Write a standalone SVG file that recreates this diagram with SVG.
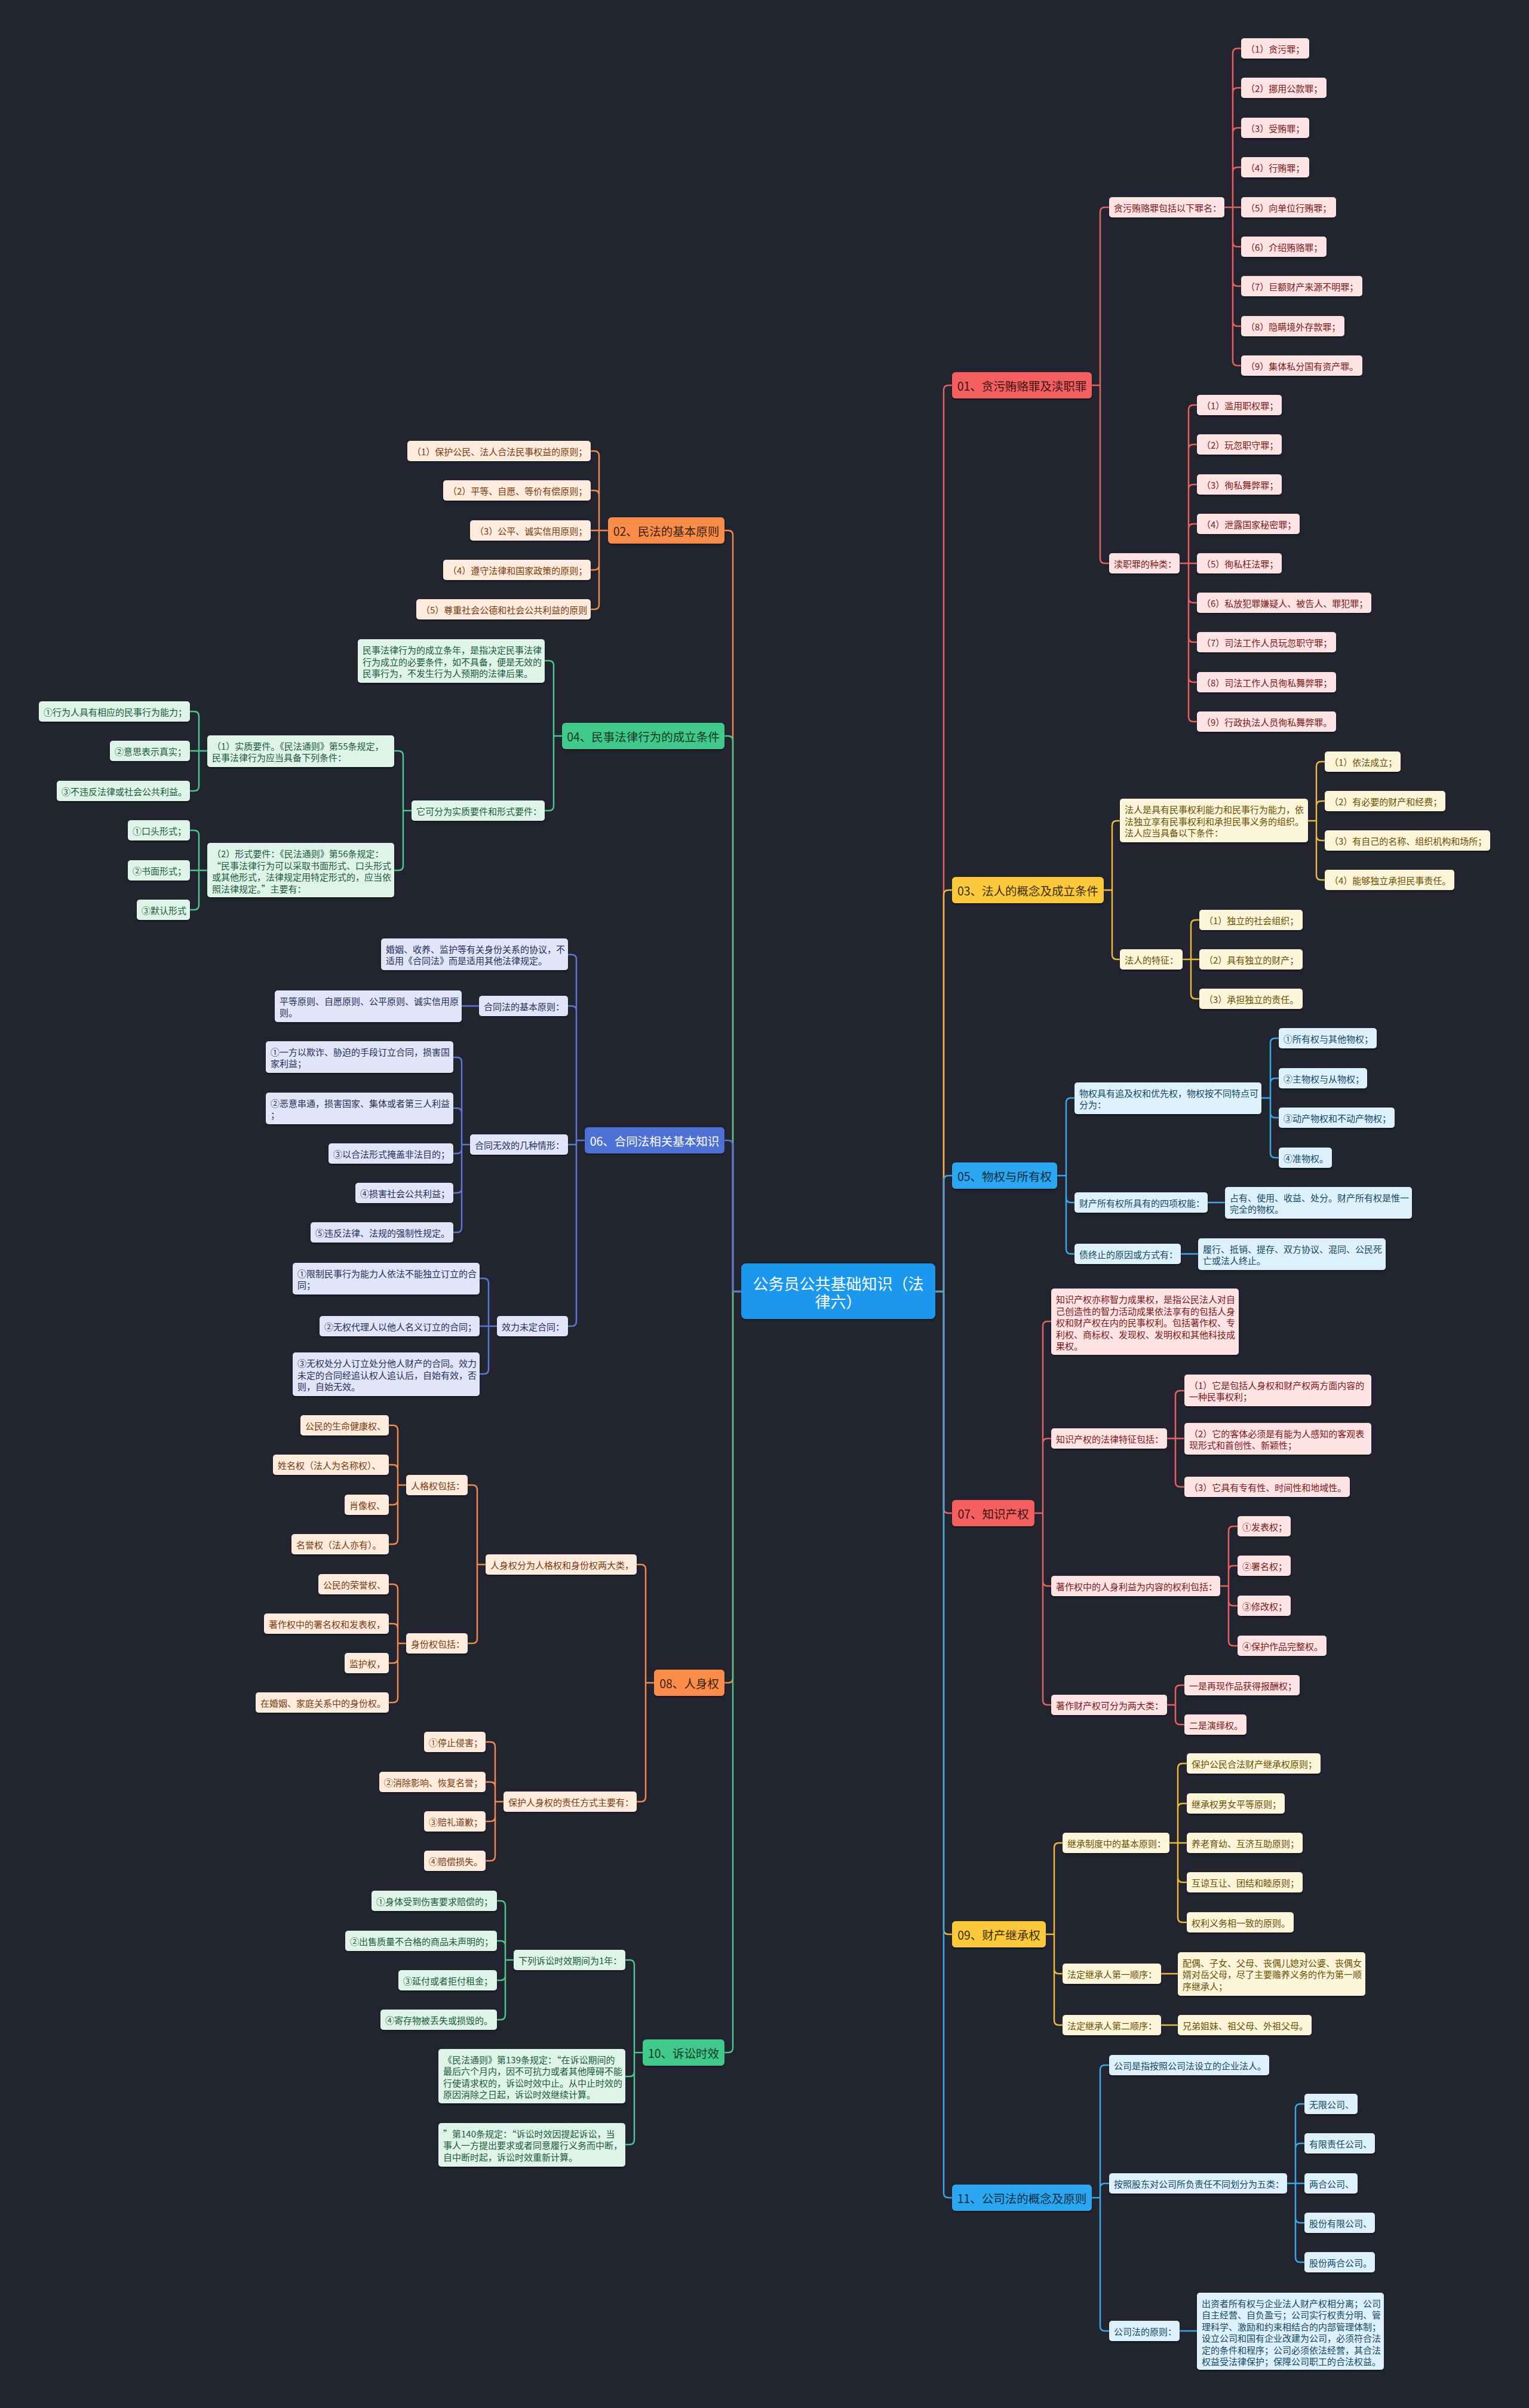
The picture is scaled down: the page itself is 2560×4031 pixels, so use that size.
<svg xmlns="http://www.w3.org/2000/svg" width="2560" height="4031" viewBox="0 0 2560 4031">
<defs>
<filter id="sh" x="-5%" y="-10%" width="110%" height="130%"><feDropShadow dx="0" dy="2" stdDeviation="1.2" flood-color="#000" flood-opacity="0.45"/></filter>
<style>
text{font-family:"Noto Sans CJK SC","Noto Sans",sans-serif;font-size:15px;dominant-baseline:central}
.L1{font-size:19.5px;text-anchor:middle}
g rect{filter:url(#sh)}
.nr1 rect{fill:#f65e5e}.nr1 text{fill:#3a1414}
.nr2 rect{fill:#fde3e3}.nr2 text{fill:#7d1818}
.no1 rect{fill:#fb8c4a}.no1 text{fill:#3d220f}
.no2 rect{fill:#fdebde}.no2 text{fill:#7c3a0c}
.ny1 rect{fill:#fcc93c}.ny1 text{fill:#3d2e05}
.ny2 rect{fill:#fdf5da}.ny2 text{fill:#6a5000}
.ng1 rect{fill:#3fc98a}.ng1 text{fill:#10392a}
.ng2 rect{fill:#def4e8}.ng2 text{fill:#1b5a3c}
.nb1 rect{fill:#2aa7f0}.nb1 text{fill:#0e2c44}
.nb2 rect{fill:#dcf1fc}.nb2 text{fill:#154766}
.ni1 rect{fill:#4e6fd4}.ni1 text{fill:#ffffff}
.ni2 rect{fill:#e1e5f7}.ni2 text{fill:#23305f}
.root rect{fill:#1f97ee}.root text{fill:#ffffff;font-size:26px;text-anchor:middle}
#connectors path{fill:none;stroke-width:2.5;stroke-linejoin:round}
.cr{stroke:#e8615f}.co{stroke:#f08b50}.cy{stroke:#e9bb3a}.cg{stroke:#4cc48b}.cb{stroke:#3aa8e6}.ci{stroke:#5a77d2}
</style>
</defs>
<rect x="0" y="0" width="2560" height="4031" fill="#22242f"/>

<g id="connectors">
<path class="cr" d="M1566 2162H1580V653Q1580 645 1588 645H1594M1566 2162H1580V2525Q1580 2533 1588 2533H1594"/>
<path class="cy" d="M1566 2162H1580V1498Q1580 1490 1588 1490H1594M1566 2162H1580V3230Q1580 3238 1588 3238H1594"/>
<path class="cb" d="M1566 2162H1580V1976Q1580 1968 1588 1968H1594M1566 2162H1580V3671Q1580 3679 1588 3679H1594"/>
<path class="co" d="M1241 2162H1227V896Q1227 888 1219 888H1213M1241 2162H1227V2809Q1227 2817 1219 2817H1213"/>
<path class="cg" d="M1241 2162H1227V1240Q1227 1232 1219 1232H1213M1241 2162H1227V3428Q1227 3436 1219 3436H1213"/>
<path class="ci" d="M1241 2162H1227V1917Q1227 1909 1219 1909H1213"/>

<path class="cr" d="M1828 645H1842V355Q1842 347 1850 347H1857M1828 645H1842V935Q1842 943 1850 943H1857"/>
<path class="cr" d="M2050 347H2064V89Q2064 81 2072 81H2078M2050 347H2064V155Q2064 147 2072 147H2078M2050 347H2064V222Q2064 214 2072 214H2078M2050 347H2064V288Q2064 280 2072 280H2078M2050 347H2078M2050 347H2064V405Q2064 413 2072 413H2078M2050 347H2064V471Q2064 479 2072 479H2078M2050 347H2064V538Q2064 546 2072 546H2078M2050 347H2064V604Q2064 612 2072 612H2078"/>
<path class="cr" d="M1975 943H1990V686Q1990 678 1998 678H2004M1975 943H1990V752Q1990 744 1998 744H2004M1975 943H1990V819Q1990 811 1998 811H2004M1975 943H1990V885Q1990 877 1998 877H2004M1975 943H2004M1975 943H1990V1001Q1990 1009 1998 1009H2004M1975 943H1990V1067Q1990 1075 1998 1075H2004M1975 943H1990V1134Q1990 1142 1998 1142H2004M1975 943H1990V1200Q1990 1208 1998 1208H2004"/>

<path class="cy" d="M1848 1490H1862V1382Q1862 1374 1870 1374H1875M1848 1490H1862V1598Q1862 1606 1870 1606H1875"/>
<path class="cy" d="M2190 1374H2204V1283Q2204 1275 2212 1275H2218M2190 1374H2204V1349Q2204 1341 2212 1341H2218M2190 1374H2204V1399Q2204 1407 2212 1407H2218M2190 1374H2204V1465Q2204 1473 2212 1473H2218"/>
<path class="cy" d="M1980 1606H1994V1548Q1994 1540 2002 1540H2008M1980 1606H2008M1980 1606H1994V1664Q1994 1672 2002 1672H2008"/>

<path class="cb" d="M1770 1968H1785V1846Q1785 1838 1793 1838H1799M1770 1968H1785V2005Q1785 2013 1793 2013H1799M1770 1968H1785V2091Q1785 2099 1793 2099H1799"/>
<path class="cb" d="M2112 1838H2127V1746Q2127 1738 2135 1738H2141M2112 1838H2127V1813Q2127 1805 2135 1805H2141M2112 1838H2127V1863Q2127 1871 2135 1871H2141M2112 1838H2127V1930Q2127 1938 2135 1938H2141"/>
<path class="cb" d="M2022 2013H2051M1977 2099H2006"/>

<path class="cr" d="M1732 2533H1746V2220Q1746 2212 1754 2212H1760M1732 2533H1746V2416Q1746 2408 1754 2408H1760M1732 2533H1746V2647Q1746 2655 1754 2655H1760M1732 2533H1746V2846Q1746 2854 1754 2854H1760"/>
<path class="cr" d="M1954 2408H1968V2336Q1968 2328 1976 2328H1983M1954 2408H1983M1954 2408H1968V2481Q1968 2489 1976 2489H1983"/>
<path class="cr" d="M2043 2655H2057V2563Q2057 2555 2065 2555H2072M2043 2655H2057V2629Q2057 2621 2065 2621H2072M2043 2655H2057V2680Q2057 2688 2065 2688H2072M2043 2655H2057V2747Q2057 2755 2065 2755H2072"/>
<path class="cr" d="M1954 2854H1968V2829Q1968 2821 1976 2821H1983M1954 2854H1968V2879Q1968 2887 1976 2887H1983"/>

<path class="cy" d="M1751 3238H1765V3093Q1765 3085 1773 3085H1779M1751 3238H1765V3296Q1765 3304 1773 3304H1779M1751 3238H1765V3382Q1765 3390 1773 3390H1779"/>
<path class="cy" d="M1958 3085H1972V2960Q1972 2952 1980 2952H1987M1958 3085H1972V3027Q1972 3019 1980 3019H1987M1958 3085H1987M1958 3085H1972V3143Q1972 3151 1980 3151H1987M1958 3085H1972V3210Q1972 3218 1980 3218H1987"/>
<path class="cy" d="M1944 3304H1972M1944 3390H1972"/>

<path class="cb" d="M1828 3679H1842V3465Q1842 3457 1850 3457H1857M1828 3679H1842V3663Q1842 3655 1850 3655H1857M1828 3679H1842V3894Q1842 3902 1850 3902H1857"/>
<path class="cb" d="M2155 3655H2169V3530Q2169 3522 2177 3522H2184M2155 3655H2169V3596Q2169 3588 2177 3588H2184M2155 3655H2184M2155 3655H2169V3713Q2169 3721 2177 3721H2184M2155 3655H2169V3779Q2169 3787 2177 3787H2184"/>
<path class="cb" d="M1975 3902H2004"/>

<path class="co" d="M1018 888H1003V763Q1003 755 995 755H989M1018 888H1003V829Q1003 821 995 821H989M1018 888H989M1018 888H1003V946Q1003 954 995 954H989M1018 888H1003V1012Q1003 1020 995 1020H989"/>

<path class="cg" d="M941 1232H927V1114Q927 1106 919 1106H912M941 1232H927V1349Q927 1357 919 1357H912"/>
<path class="cg" d="M689 1357H675V1265Q675 1257 667 1257H660M689 1357H675V1449Q675 1457 667 1457H660"/>
<path class="cg" d="M347 1257H333V1199Q333 1191 325 1191H318M347 1257H318M347 1257H333V1316Q333 1324 325 1324H318"/>
<path class="cg" d="M347 1457H333V1398Q333 1390 325 1390H318M347 1457H318M347 1457H333V1515Q333 1523 325 1523H318"/>

<path class="ci" d="M979 1909H965V1606Q965 1598 957 1598H951M979 1909H965V1692Q965 1684 957 1684H951M979 1909H965V1913Q965 1916 962 1916H951M979 1909H965V2212Q965 2220 957 2220H951"/>
<path class="ci" d="M802 1684H773"/>
<path class="ci" d="M787 1916H773V1778Q773 1770 765 1770H759M787 1916H773V1863Q773 1855 765 1855H759M787 1916H773V1923Q773 1931 765 1931H759M787 1916H773V1989Q773 1997 765 1997H759M787 1916H773V2055Q773 2063 765 2063H759"/>
<path class="ci" d="M832 2220H818V2148Q818 2140 810 2140H803M832 2220H803M832 2220H818V2292Q818 2300 810 2300H803"/>

<path class="co" d="M1095 2817H1081V2627Q1081 2619 1073 2619H1066M1095 2817H1081V3008Q1081 3016 1073 3016H1066"/>
<path class="co" d="M813 2619H799V2494Q799 2486 791 2486H783M813 2619H799V2743Q799 2751 791 2751H783"/>
<path class="co" d="M680 2486H666V2394Q666 2386 658 2386H651M680 2486H666V2460Q666 2452 658 2452H651M680 2486H666V2511Q666 2519 658 2519H651M680 2486H666V2577Q666 2585 658 2585H651"/>
<path class="co" d="M680 2751H666V2660Q666 2652 658 2652H651M680 2751H666V2726Q666 2718 658 2718H651M680 2751H666V2776Q666 2784 658 2784H651M680 2751H666V2842Q666 2850 658 2850H651"/>
<path class="co" d="M843 3016H829V2924Q829 2916 821 2916H813M843 3016H829V2991Q829 2983 821 2983H813M843 3016H829V3041Q829 3049 821 3049H813M843 3016H829V3107Q829 3115 821 3115H813"/>

<path class="cg" d="M1076 3436H1062V3289Q1062 3281 1054 3281H1047M1076 3436H1062V3468Q1062 3476 1054 3476H1047M1076 3436H1062V3582Q1062 3590 1054 3590H1047"/>
<path class="cg" d="M860 3281H846V3190Q846 3182 838 3182H832M860 3281H846V3257Q846 3249 838 3249H832M860 3281H846V3307Q846 3315 838 3315H832M860 3281H846V3373Q846 3381 838 3381H832"/>
</g>

<g id="root" class="root"><rect x="1241" y="2115" width="325" height="93" rx="8"/><text x="1403.5" y="2147">公务员公共基础知识（法</text><text x="1403.5" y="2177">律六）</text></g>

<!-- 01 -->
<g id="n01" class="nr1"><rect x="1594" y="623" width="234" height="44" rx="6"/><text class="L1" x="1711" y="645">01、贪污贿赂罪及渎职罪</text></g>
<g id="n01a" class="nr2"><rect x="1857" y="330" width="193" height="34" rx="5"/><text x="1865" y="347">贪污贿赂罪包括以下罪名：</text></g>
<g id="n01a1" class="nr2"><rect x="2078" y="64" width="114" height="34" rx="5"/><text x="2086" y="81">（1）贪污罪；</text></g>
<g id="n01a2" class="nr2"><rect x="2078" y="130" width="143" height="34" rx="5"/><text x="2086" y="147">（2）挪用公款罪；</text></g>
<g id="n01a3" class="nr2"><rect x="2078" y="197" width="114" height="34" rx="5"/><text x="2086" y="214">（3）受贿罪；</text></g>
<g id="n01a4" class="nr2"><rect x="2078" y="263" width="114" height="34" rx="5"/><text x="2086" y="280">（4）行贿罪；</text></g>
<g id="n01a5" class="nr2"><rect x="2078" y="330" width="159" height="34" rx="5"/><text x="2086" y="347">（5）向单位行贿罪；</text></g>
<g id="n01a6" class="nr2"><rect x="2078" y="396" width="143" height="34" rx="5"/><text x="2086" y="413">（6）介绍贿赂罪；</text></g>
<g id="n01a7" class="nr2"><rect x="2078" y="462" width="203" height="34" rx="5"/><text x="2086" y="479">（7）巨额财产来源不明罪；</text></g>
<g id="n01a8" class="nr2"><rect x="2078" y="529" width="173" height="34" rx="5"/><text x="2086" y="546">（8）隐瞒境外存款罪；</text></g>
<g id="n01a9" class="nr2"><rect x="2078" y="595" width="203" height="34" rx="5"/><text x="2086" y="612">（9）集体私分国有资产罪。</text></g>
<g id="n01b" class="nr2"><rect x="1857" y="926" width="118" height="34" rx="5"/><text x="1865" y="943">渎职罪的种类：</text></g>
<g id="n01b1" class="nr2"><rect x="2004" y="661" width="142" height="34" rx="5"/><text x="2012" y="678">（1）滥用职权罪；</text></g>
<g id="n01b2" class="nr2"><rect x="2004" y="727" width="142" height="34" rx="5"/><text x="2012" y="744">（2）玩忽职守罪；</text></g>
<g id="n01b3" class="nr2"><rect x="2004" y="794" width="142" height="34" rx="5"/><text x="2012" y="811">（3）徇私舞弊罪；</text></g>
<g id="n01b4" class="nr2"><rect x="2004" y="860" width="172" height="34" rx="5"/><text x="2012" y="877">（4）泄露国家秘密罪；</text></g>
<g id="n01b5" class="nr2"><rect x="2004" y="926" width="142" height="34" rx="5"/><text x="2012" y="943">（5）徇私枉法罪；</text></g>
<g id="n01b6" class="nr2"><rect x="2004" y="992" width="292" height="34" rx="5"/><text x="2012" y="1009">（6）私放犯罪嫌疑人、被告人、罪犯罪；</text></g>
<g id="n01b7" class="nr2"><rect x="2004" y="1058" width="233" height="34" rx="5"/><text x="2012" y="1075">（7）司法工作人员玩忽职守罪；</text></g>
<g id="n01b8" class="nr2"><rect x="2004" y="1125" width="233" height="34" rx="5"/><text x="2012" y="1142">（8）司法工作人员徇私舞弊罪；</text></g>
<g id="n01b9" class="nr2"><rect x="2004" y="1191" width="233" height="34" rx="5"/><text x="2012" y="1208">（9）行政执法人员徇私舞弊罪。</text></g>

<!-- 03 -->
<g id="n03" class="ny1"><rect x="1594" y="1468" width="254" height="44" rx="6"/><text class="L1" x="1721" y="1490">03、法人的概念及成立条件</text></g>
<g id="n03a" class="ny2"><rect x="1875" y="1337" width="315" height="73" rx="5"/><text x="1883" y="1354.5">法人是具有民事权利能力和民事行为能力，依</text><text x="1883" y="1374">法独立享有民事权利和承担民事义务的组织。</text><text x="1883" y="1393.5">法人应当具备以下条件：</text></g>
<g id="n03a1" class="ny2"><rect x="2218" y="1258" width="127" height="34" rx="5"/><text x="2226" y="1275">（1）依法成立；</text></g>
<g id="n03a2" class="ny2"><rect x="2218" y="1324" width="202" height="34" rx="5"/><text x="2226" y="1341">（2）有必要的财产和经费；</text></g>
<g id="n03a3" class="ny2"><rect x="2218" y="1390" width="277" height="34" rx="5"/><text x="2226" y="1407">（3）有自己的名称、组织机构和场所；</text></g>
<g id="n03a4" class="ny2"><rect x="2218" y="1456" width="217" height="34" rx="5"/><text x="2226" y="1473">（4）能够独立承担民事责任。</text></g>
<g id="n03b" class="ny2"><rect x="1875" y="1589" width="105" height="34" rx="5"/><text x="1883" y="1606">法人的特征：</text></g>
<g id="n03b1" class="ny2"><rect x="2008" y="1523" width="173" height="34" rx="5"/><text x="2016" y="1540">（1）独立的社会组织；</text></g>
<g id="n03b2" class="ny2"><rect x="2008" y="1589" width="173" height="34" rx="5"/><text x="2016" y="1606">（2）具有独立的财产；</text></g>
<g id="n03b3" class="ny2"><rect x="2008" y="1655" width="173" height="34" rx="5"/><text x="2016" y="1672">（3）承担独立的责任。</text></g>

<!-- 05 -->
<g id="n05" class="nb1"><rect x="1594" y="1946" width="176" height="44" rx="6"/><text class="L1" x="1682" y="1968">05、物权与所有权</text></g>
<g id="n05a" class="nb2"><rect x="1799" y="1812" width="313" height="53" rx="5"/><text x="1807" y="1829">物权具有追及权和优先权，物权按不同特点可</text><text x="1807" y="1848.5">分为：</text></g>
<g id="n05a1" class="nb2"><rect x="2141" y="1721" width="164" height="34" rx="5"/><text x="2149" y="1738">①所有权与其他物权；</text></g>
<g id="n05a2" class="nb2"><rect x="2141" y="1788" width="148" height="34" rx="5"/><text x="2149" y="1805">②主物权与从物权；</text></g>
<g id="n05a3" class="nb2"><rect x="2141" y="1854" width="194" height="34" rx="5"/><text x="2149" y="1871">③动产物权和不动产物权；</text></g>
<g id="n05a4" class="nb2"><rect x="2141" y="1921" width="89" height="34" rx="5"/><text x="2149" y="1938">④准物权。</text></g>
<g id="n05b" class="nb2"><rect x="1799" y="1996" width="223" height="34" rx="5"/><text x="1807" y="2013">财产所有权所具有的四项权能：</text></g>
<g id="n05b1" class="nb2"><rect x="2051" y="1987" width="313" height="53" rx="5"/><text x="2059" y="2004">占有、使用、收益、处分。财产所有权是惟一</text><text x="2059" y="2023.5">完全的物权。</text></g>
<g id="n05c" class="nb2"><rect x="1799" y="2082" width="178" height="34" rx="5"/><text x="1807" y="2099">债终止的原因或方式有：</text></g>
<g id="n05c1" class="nb2"><rect x="2006" y="2073" width="314" height="53" rx="5"/><text x="2014" y="2090">履行、抵销、提存、双方协议、混同、公民死</text><text x="2014" y="2109.5">亡或法人终止。</text></g>

<!-- 07 -->
<g id="n07" class="nr1"><rect x="1594" y="2511" width="138" height="44" rx="6"/><text class="L1" x="1663" y="2533">07、知识产权</text></g>
<g id="n07a" class="nr2"><rect x="1760" y="2157" width="314" height="111" rx="5"/><text x="1768" y="2174.5">知识产权亦称智力成果权，是指公民法人对自</text><text x="1768" y="2194">己创造性的智力活动成果依法享有的包括人身</text><text x="1768" y="2213.5">权和财产权在内的民事权利。包括著作权、专</text><text x="1768" y="2233">利权、商标权、发现权、发明权和其他科技成</text><text x="1768" y="2252.5">果权。</text></g>
<g id="n07b" class="nr2"><rect x="1760" y="2391" width="194" height="34" rx="5"/><text x="1768" y="2408">知识产权的法律特征包括：</text></g>
<g id="n07b1" class="nr2"><rect x="1983" y="2301" width="313" height="53" rx="5"/><text x="1991" y="2318">（1）它是包括人身权和财产权两方面内容的</text><text x="1991" y="2337.5">一种民事权利；</text></g>
<g id="n07b2" class="nr2"><rect x="1983" y="2382" width="313" height="53" rx="5"/><text x="1991" y="2399">（2）它的客体必须是有能为人感知的客观表</text><text x="1991" y="2418.5">现形式和首创性、新颖性；</text></g>
<g id="n07b3" class="nr2"><rect x="1983" y="2472" width="277" height="34" rx="5"/><text x="1991" y="2489">（3）它具有专有性、时间性和地域性。</text></g>
<g id="n07c" class="nr2"><rect x="1760" y="2638" width="283" height="34" rx="5"/><text x="1768" y="2655">著作权中的人身利益为内容的权利包括：</text></g>
<g id="n07c1" class="nr2"><rect x="2072" y="2538" width="89" height="34" rx="5"/><text x="2080" y="2555">①发表权；</text></g>
<g id="n07c2" class="nr2"><rect x="2072" y="2604" width="89" height="34" rx="5"/><text x="2080" y="2621">②署名权；</text></g>
<g id="n07c3" class="nr2"><rect x="2072" y="2671" width="89" height="34" rx="5"/><text x="2080" y="2688">③修改权；</text></g>
<g id="n07c4" class="nr2"><rect x="2072" y="2738" width="149" height="34" rx="5"/><text x="2080" y="2755">④保护作品完整权。</text></g>
<g id="n07d" class="nr2"><rect x="1760" y="2837" width="194" height="34" rx="5"/><text x="1768" y="2854">著作财产权可分为两大类：</text></g>
<g id="n07d1" class="nr2"><rect x="1983" y="2804" width="193" height="34" rx="5"/><text x="1991" y="2821">一是再现作品获得报酬权；</text></g>
<g id="n07d2" class="nr2"><rect x="1983" y="2870" width="104" height="34" rx="5"/><text x="1991" y="2887">二是演绎权。</text></g>

<!-- 09 -->
<g id="n09" class="ny1"><rect x="1594" y="3216" width="157" height="44" rx="6"/><text class="L1" x="1672.5" y="3238">09、财产继承权</text></g>
<g id="n09a" class="ny2"><rect x="1779" y="3068" width="179" height="34" rx="5"/><text x="1787" y="3085">继承制度中的基本原则：</text></g>
<g id="n09a1" class="ny2"><rect x="1987" y="2935" width="224" height="34" rx="5"/><text x="1995" y="2952">保护公民合法财产继承权原则；</text></g>
<g id="n09a2" class="ny2"><rect x="1987" y="3002" width="164" height="34" rx="5"/><text x="1995" y="3019">继承权男女平等原则；</text></g>
<g id="n09a3" class="ny2"><rect x="1987" y="3068" width="194" height="34" rx="5"/><text x="1995" y="3085">养老育幼、互济互助原则；</text></g>
<g id="n09a4" class="ny2"><rect x="1987" y="3134" width="194" height="34" rx="5"/><text x="1995" y="3151">互谅互让、团结和睦原则；</text></g>
<g id="n09a5" class="ny2"><rect x="1987" y="3201" width="179" height="34" rx="5"/><text x="1995" y="3218">权利义务相一致的原则。</text></g>
<g id="n09b" class="ny2"><rect x="1779" y="3287" width="165" height="34" rx="5"/><text x="1787" y="3304">法定继承人第一顺序：</text></g>
<g id="n09b1" class="ny2"><rect x="1972" y="3268" width="314" height="73" rx="5"/><text x="1980" y="3285">配偶、子女、父母、丧偶儿媳对公婆、丧偶女</text><text x="1980" y="3304.5">婿对岳父母，尽了主要赡养义务的作为第一顺</text><text x="1980" y="3324">序继承人；</text></g>
<g id="n09c" class="ny2"><rect x="1779" y="3373" width="165" height="34" rx="5"/><text x="1787" y="3390">法定继承人第二顺序：</text></g>
<g id="n09c1" class="ny2"><rect x="1972" y="3373" width="224" height="34" rx="5"/><text x="1980" y="3390">兄弟姐妹、祖父母、外祖父母。</text></g>

<!-- 11 -->
<g id="n11" class="nb1"><rect x="1594" y="3657" width="234" height="44" rx="6"/><text class="L1" x="1711" y="3679">11、公司法的概念及原则</text></g>
<g id="n11a" class="nb2"><rect x="1857" y="3440" width="268" height="34" rx="5"/><text x="1865" y="3457">公司是指按照公司法设立的企业法人。</text></g>
<g id="n11b" class="nb2"><rect x="1857" y="3638" width="298" height="34" rx="5"/><text x="1865" y="3655">按照股东对公司所负责任不同划分为五类：</text></g>
<g id="n11b1" class="nb2"><rect x="2184" y="3505" width="89" height="34" rx="5"/><text x="2192" y="3522">无限公司、</text></g>
<g id="n11b2" class="nb2"><rect x="2184" y="3571" width="118" height="34" rx="5"/><text x="2192" y="3588">有限责任公司、</text></g>
<g id="n11b3" class="nb2"><rect x="2184" y="3638" width="89" height="34" rx="5"/><text x="2192" y="3655">两合公司、</text></g>
<g id="n11b4" class="nb2"><rect x="2184" y="3704" width="118" height="34" rx="5"/><text x="2192" y="3721">股份有限公司、</text></g>
<g id="n11b5" class="nb2"><rect x="2184" y="3770" width="118" height="34" rx="5"/><text x="2192" y="3787">股份两合公司。</text></g>
<g id="n11c" class="nb2"><rect x="1857" y="3885" width="118" height="34" rx="5"/><text x="1865" y="3902">公司法的原则：</text></g>
<g id="n11c1" class="nb2"><rect x="2004" y="3838" width="313" height="129" rx="5"/><text x="2012" y="3855">出资者所有权与企业法人财产权相分离；公司</text><text x="2012" y="3874.5">自主经营、自负盈亏；公司实行权责分明、管</text><text x="2012" y="3894">理科学、激励和约束相结合的内部管理体制；</text><text x="2012" y="3913.5">设立公司和国有企业改建为公司，必须符合法</text><text x="2012" y="3933">定的条件和程序；公司必须依法经营，其合法</text><text x="2012" y="3952.5">权益受法律保护；保障公司职工的合法权益。</text></g>

<!-- 02 -->
<g id="n02" class="no1"><rect x="1018" y="866" width="195" height="44" rx="6"/><text class="L1" x="1115.5" y="888">02、民法的基本原则</text></g>
<g id="n02a1" class="no2"><rect x="682" y="738" width="307" height="34" rx="5"/><text x="690" y="755">（1）保护公民、法人合法民事权益的原则；</text></g>
<g id="n02a2" class="no2"><rect x="742" y="804" width="247" height="34" rx="5"/><text x="750" y="821">（2）平等、自愿、等价有偿原则；</text></g>
<g id="n02a3" class="no2"><rect x="787" y="871" width="202" height="34" rx="5"/><text x="795" y="888">（3）公平、诚实信用原则；</text></g>
<g id="n02a4" class="no2"><rect x="742" y="937" width="247" height="34" rx="5"/><text x="750" y="954">（4）遵守法律和国家政策的原则；</text></g>
<g id="n02a5" class="no2"><rect x="697" y="1003" width="292" height="34" rx="5"/><text x="705" y="1020">（5）尊重社会公德和社会公共利益的原则</text></g>

<!-- 04 -->
<g id="n04" class="ng1"><rect x="941" y="1210" width="272" height="44" rx="6"/><text class="L1" x="1077" y="1232">04、民事法律行为的成立条件</text></g>
<g id="n04a" class="ng2"><rect x="599" y="1070" width="313" height="73" rx="5"/><text x="607" y="1087.5">民事法律行为的成立条年，是指决定民事法律</text><text x="607" y="1107">行为成立的必要条件，如不具备，便是无效的</text><text x="607" y="1126.5">民事行为，不发生行为人预期的法律后果。</text></g>
<g id="n04b" class="ng2"><rect x="689" y="1340" width="223" height="34" rx="5"/><text x="697" y="1357">它可分为实质要件和形式要件：</text></g>
<g id="n04b1" class="ng2"><rect x="347" y="1231" width="313" height="53" rx="5"/><text x="355" y="1248">（1）实质要件。《民法通则》第55条规定，</text><text x="355" y="1267.5">民事法律行为应当具备下列条件：</text></g>
<g id="n04b1a" class="ng2"><rect x="65" y="1174" width="253" height="34" rx="5"/><text x="73" y="1191">①行为人具有相应的民事行为能力；</text></g>
<g id="n04b1b" class="ng2"><rect x="184" y="1240" width="134" height="34" rx="5"/><text x="192" y="1257">②意思表示真实；</text></g>
<g id="n04b1c" class="ng2"><rect x="95" y="1307" width="223" height="34" rx="5"/><text x="103" y="1324">③不违反法律或社会公共利益。</text></g>
<g id="n04b2" class="ng2"><rect x="347" y="1411" width="313" height="91" rx="5"/><text x="355" y="1428.5">（2）形式要件：《民法通则》第56条规定：</text><text x="355" y="1448">“民事法律行为可以采取书面形式、口头形式</text><text x="355" y="1467.5">或其他形式，法律规定用特定形式的，应当依</text><text x="355" y="1487">照法律规定。”主要有：</text></g>
<g id="n04b2a" class="ng2"><rect x="214" y="1373" width="104" height="34" rx="5"/><text x="222" y="1390">①口头形式；</text></g>
<g id="n04b2b" class="ng2"><rect x="214" y="1440" width="104" height="34" rx="5"/><text x="222" y="1457">②书面形式；</text></g>
<g id="n04b2c" class="ng2"><rect x="229" y="1506" width="89" height="34" rx="5"/><text x="237" y="1523">③默认形式</text></g>

<!-- 06 -->
<g id="n06" class="ni1"><rect x="979" y="1887" width="234" height="44" rx="6"/><text class="L1" x="1096" y="1909">06、合同法相关基本知识</text></g>
<g id="n06a" class="ni2"><rect x="638" y="1571" width="313" height="53" rx="5"/><text x="646" y="1588">婚姻、收养、监护等有关身份关系的协议，不</text><text x="646" y="1607.5">适用《合同法》而是适用其他法律规定。</text></g>
<g id="n06b" class="ni2"><rect x="802" y="1667" width="149" height="34" rx="5"/><text x="810" y="1684">合同法的基本原则：</text></g>
<g id="n06b1" class="ni2"><rect x="460" y="1658" width="313" height="53" rx="5"/><text x="468" y="1675">平等原则、自愿原则、公平原则、诚实信用原</text><text x="468" y="1694.5">则。</text></g>
<g id="n06c" class="ni2"><rect x="787" y="1899" width="164" height="34" rx="5"/><text x="795" y="1916">合同无效的几种情形：</text></g>
<g id="n06c1" class="ni2"><rect x="445" y="1743" width="314" height="53" rx="5"/><text x="453" y="1760">①一方以欺诈、胁迫的手段订立合同，损害国</text><text x="453" y="1779.5">家利益；</text></g>
<g id="n06c2" class="ni2"><rect x="445" y="1829" width="314" height="53" rx="5"/><text x="453" y="1846">②恶意串通，损害国家、集体或者第三人利益</text><text x="453" y="1865.5">；</text></g>
<g id="n06c3" class="ni2"><rect x="550" y="1914" width="209" height="34" rx="5"/><text x="558" y="1931">③以合法形式掩盖非法目的；</text></g>
<g id="n06c4" class="ni2"><rect x="595" y="1980" width="164" height="34" rx="5"/><text x="603" y="1997">④损害社会公共利益；</text></g>
<g id="n06c5" class="ni2"><rect x="520" y="2046" width="239" height="34" rx="5"/><text x="528" y="2063">⑤违反法律、法规的强制性规定。</text></g>
<g id="n06d" class="ni2"><rect x="832" y="2203" width="119" height="34" rx="5"/><text x="840" y="2220">效力未定合同：</text></g>
<g id="n06d1" class="ni2"><rect x="490" y="2114" width="313" height="53" rx="5"/><text x="498" y="2131">①限制民事行为能力人依法不能独立订立的合</text><text x="498" y="2150.5">同；</text></g>
<g id="n06d2" class="ni2"><rect x="535" y="2203" width="268" height="34" rx="5"/><text x="543" y="2220">②无权代理人以他人名义订立的合同；</text></g>
<g id="n06d3" class="ni2"><rect x="490" y="2264" width="313" height="73" rx="5"/><text x="498" y="2281.5">③无权处分人订立处分他人财产的合同。效力</text><text x="498" y="2301">未定的合同经追认权人追认后，自始有效，否</text><text x="498" y="2320.5">则，自始无效。</text></g>

<!-- 08 -->
<g id="n08" class="no1"><rect x="1095" y="2795" width="118" height="44" rx="6"/><text class="L1" x="1154" y="2817">08、人身权</text></g>
<g id="n08a" class="no2"><rect x="813" y="2602" width="253" height="34" rx="5"/><text x="821" y="2619">人身权分为人格权和身份权两大类，</text></g>
<g id="n08a1" class="no2"><rect x="680" y="2469" width="103" height="34" rx="5"/><text x="688" y="2486">人格权包括：</text></g>
<g id="n08a1a" class="no2"><rect x="503" y="2369" width="148" height="34" rx="5"/><text x="511" y="2386">公民的生命健康权、</text></g>
<g id="n08a1b" class="no2"><rect x="457" y="2435" width="194" height="34" rx="5"/><text x="465" y="2452">姓名权（法人为名称权）、</text></g>
<g id="n08a1c" class="no2"><rect x="577" y="2502" width="74" height="34" rx="5"/><text x="585" y="2519">肖像权、</text></g>
<g id="n08a1d" class="no2"><rect x="488" y="2568" width="163" height="34" rx="5"/><text x="496" y="2585">名誉权（法人亦有）。</text></g>
<g id="n08a2" class="no2"><rect x="680" y="2734" width="103" height="34" rx="5"/><text x="688" y="2751">身份权包括：</text></g>
<g id="n08a2a" class="no2"><rect x="533" y="2635" width="118" height="34" rx="5"/><text x="541" y="2652">公民的荣誉权、</text></g>
<g id="n08a2b" class="no2"><rect x="442" y="2701" width="209" height="34" rx="5"/><text x="450" y="2718">著作权中的署名权和发表权，</text></g>
<g id="n08a2c" class="no2"><rect x="577" y="2767" width="74" height="34" rx="5"/><text x="585" y="2784">监护权，</text></g>
<g id="n08a2d" class="no2"><rect x="428" y="2833" width="223" height="34" rx="5"/><text x="436" y="2850">在婚姻、家庭关系中的身份权。</text></g>
<g id="n08b" class="no2"><rect x="843" y="2999" width="223" height="34" rx="5"/><text x="851" y="3016">保护人身权的责任方式主要有：</text></g>
<g id="n08b1" class="no2"><rect x="710" y="2899" width="103" height="34" rx="5"/><text x="718" y="2916">①停止侵害；</text></g>
<g id="n08b2" class="no2"><rect x="635" y="2966" width="178" height="34" rx="5"/><text x="643" y="2983">②消除影响、恢复名誉；</text></g>
<g id="n08b3" class="no2"><rect x="710" y="3032" width="103" height="34" rx="5"/><text x="718" y="3049">③赔礼道歉；</text></g>
<g id="n08b4" class="no2"><rect x="710" y="3098" width="103" height="34" rx="5"/><text x="718" y="3115">④赔偿损失。</text></g>

<!-- 10 -->
<g id="n10" class="ng1"><rect x="1076" y="3414" width="137" height="44" rx="6"/><text class="L1" x="1144.5" y="3436">10、诉讼时效</text></g>
<g id="n10a" class="ng2"><rect x="860" y="3264" width="187" height="34" rx="5"/><text x="868" y="3281">下列诉讼时效期间为1年：</text></g>
<g id="n10a1" class="ng2"><rect x="622" y="3165" width="210" height="34" rx="5"/><text x="630" y="3182">①身体受到伤害要求赔偿的；</text></g>
<g id="n10a2" class="ng2"><rect x="578" y="3232" width="254" height="34" rx="5"/><text x="586" y="3249">②出售质量不合格的商品未声明的；</text></g>
<g id="n10a3" class="ng2"><rect x="667" y="3298" width="165" height="34" rx="5"/><text x="675" y="3315">③延付或者拒付租金；</text></g>
<g id="n10a4" class="ng2"><rect x="637" y="3364" width="195" height="34" rx="5"/><text x="645" y="3381">④寄存物被丢失或损毁的。</text></g>
<g id="n10b" class="ng2"><rect x="734" y="3430" width="313" height="91" rx="5"/><text x="742" y="3447">《民法通则》第139条规定：“在诉讼期间的</text><text x="742" y="3466.5">最后六个月内，因不可抗力或者其他障碍不能</text><text x="742" y="3486">行使请求权的，诉讼时效中止。从中止时效的</text><text x="742" y="3505.5">原因消除之日起，诉讼时效继续计算。</text></g>
<g id="n10c" class="ng2"><rect x="734" y="3554" width="313" height="73" rx="5"/><text x="742" y="3571">”第140条规定：“诉讼时效因提起诉讼，当</text><text x="742" y="3590.5">事人一方提出要求或者同意履行义务而中断，</text><text x="742" y="3610">自中断时起，诉讼时效重新计算。</text></g>
</svg>
